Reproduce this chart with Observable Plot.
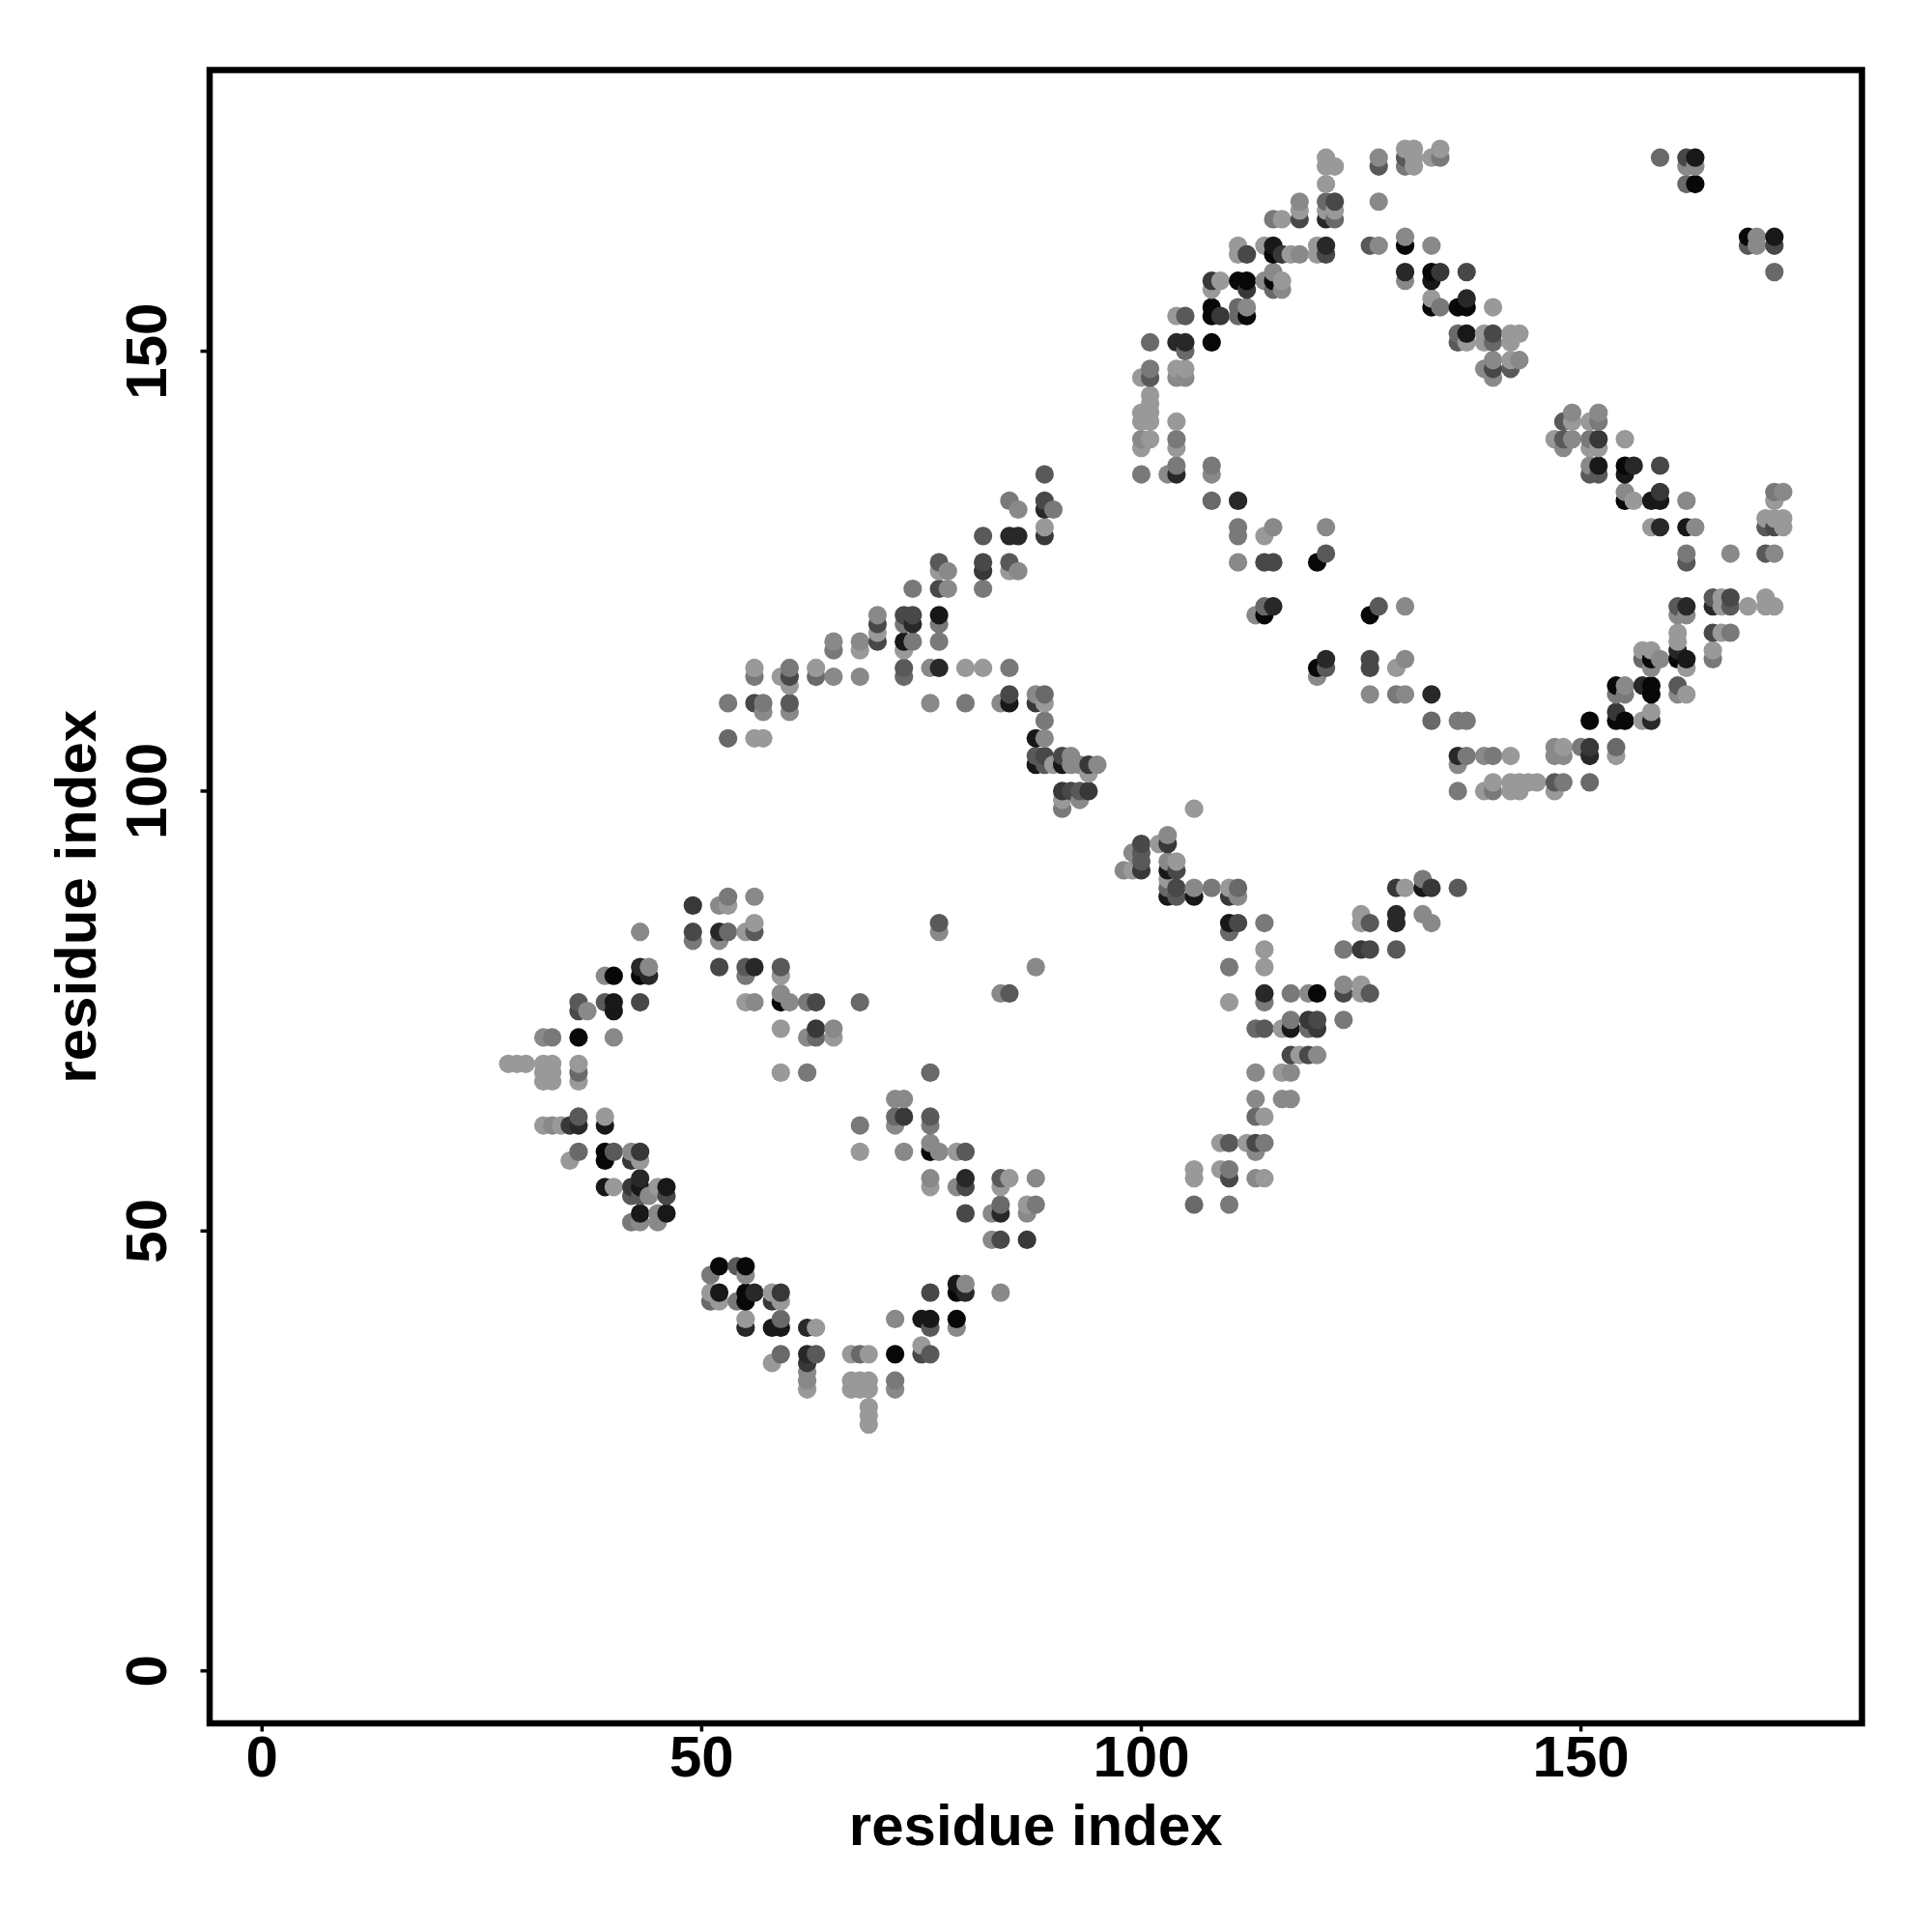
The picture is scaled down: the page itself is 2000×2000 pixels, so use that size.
<!DOCTYPE html>
<html>
<head>
<meta charset="utf-8">
<style>html,body{margin:0;padding:0;background:#fff}svg{display:block}</style>
<script src="https://cdn.jsdelivr.net/npm/d3@7"></script>
<script src="https://cdn.jsdelivr.net/npm/@observablehq/plot@0.6"></script>
</head>
<body>
<div id="chart"></div>
<script>
const axisTicks = [0, 50, 100, 150];
const axisTitle = "residue index";
// [residue i, residue j, shade 0 (darkest) .. 9 (lightest)]
const lowerLeftLoop = [
[53,88,7],[56,88,8],[49,87,3],[52,87,8],[53,87,9],[56,85,9],[77,85,5],[43,84,8],[49,84,4],[52,84,2],[53,84,6],[55,84,9],[56,84,5],[77,84,8],
[49,83,7],[52,83,8],[43,80,2],[44,80,8],[52,80,4],[55,80,5],[56,80,2],[59,80,5],[88,80,8],[39,79,8],[40,79,0],[43,79,0],[44,79,2],[55,79,7],[59,79,9],
[59,77,8],[84,77,8],[85,77,5],[36,76,5],[39,76,5],[40,76,1],[43,76,4],[55,76,9],[56,76,8],[59,76,0],[60,76,8],[62,76,7],[63,76,4],[68,76,6],
[36,75,4],[37,75,8],[40,75,1],[59,73,9],[63,73,3],[65,73,8],[32,72,8],[33,72,7],[36,72,0],[40,72,8],[62,72,8],[63,72,6],[65,72,9],
[28,69,9],[29,69,9],[30,69,9],[32,69,9],[33,69,9],[36,69,9],[32,68,9],[33,68,9],[36,68,6],[59,68,9],[62,68,7],[76,68,6],[32,67,9],[33,67,9],[36,67,9],
[72,65,8],[73,65,8],[36,63,5],[39,63,9],[72,63,6],[73,63,3],[76,63,5],[32,62,9],[33,62,8],[34,62,9],[35,62,3],[36,62,2],[39,62,1],[68,62,7],[72,62,8],[76,62,7],
[76,60,8],[36,59,6],[39,59,0],[40,59,5],[42,59,8],[43,59,3],[68,59,9],[73,59,8],[76,59,0],[77,59,8],[79,59,9],[80,59,5],[35,58,9],[39,58,0],[42,58,3],[43,58,9]
];
const lowerLeftBase = [
[43,56,2],[76,56,8],[80,56,2],[84,56,5],[85,56,9],[88,56,8],[39,55,1],[40,55,9],[42,55,3],[43,55,1],[45,55,9],[46,55,1],[76,55,9],[79,55,8],[80,55,4],[84,55,9],
[42,54,5],[43,54,5],[44,54,8],[46,54,4],[84,53,6],[87,53,9],[88,53,7],[43,52,1],[45,52,8],[46,52,1],[80,52,4],[83,52,8],[84,52,2],[87,52,8],[42,51,7],[43,51,8],[45,51,8],
[83,49,8],[84,49,4],[87,49,3],[52,46,0],[54,46,5],[55,46,0],[51,45,7],[55,45,8],[79,44,1],[80,44,8],
[51,43,9],[52,43,1],[55,43,0],[56,43,2],[58,43,9],[59,43,3],[76,43,4],[79,43,0],[80,43,2],[84,43,8],[51,42,6],[52,42,9],[54,42,7],[55,42,0],[58,42,3],[59,42,9],
[55,40,9],[59,40,6],[72,40,8],[75,40,1],[76,40,1],[79,40,0],[55,39,2],[58,39,1],[59,39,1],[62,39,2],[63,39,9],[76,39,5],[79,39,8],[75,37,9],
[59,36,6],[62,36,2],[63,36,5],[67,36,9],[68,36,6],[69,36,9],[72,36,0],[75,36,4],[76,36,5],[58,35,9],[62,35,3],[62,34,8],
[62,33,8],[67,33,9],[68,33,9],[69,33,9],[72,33,7],[62,32,9],[67,32,9],[68,32,9],[69,32,9],[72,32,8],[69,30,9],[69,29,9],[69,28,9]
];
const middleBranch = [
[106,98,9],[103,95,8],[100,94,4],[102,94,9],[103,94,3],[99,93,8],[100,93,5],[100,92,5],[103,92,8],[104,92,9],[98,91,8],[99,91,9],[100,91,3],[103,91,1],[104,91,4],[103,90,9],[132,90,7],
[103,89,6],[104,89,4],[106,89,8],[108,89,7],[110,89,9],[111,89,6],[129,89,3],[130,89,9],[132,89,1],[133,89,3],[136,89,5],[103,88,1],[104,88,5],[106,88,1],[110,88,3],[111,88,8],
[125,86,9],[129,86,2],[132,86,8],[110,85,1],[111,85,4],[114,85,7],[125,85,9],[126,85,5],[129,85,2],[133,85,8],[110,84,6],[114,82,9],[123,82,7],[125,82,3],[126,82,4],[129,82,5],
[110,80,7],[114,80,9],[123,78,8],[125,78,9],[114,77,2],[117,77,7],[119,77,8],[120,77,0],[123,77,4],[125,77,9],[126,77,5],[110,76,9],[114,76,7],
[117,74,7],[119,74,3],[120,74,4],[123,74,7],[113,73,6],[114,73,5],[116,73,9],[117,73,1],[119,73,6],[120,73,3],[117,70,4],[118,70,9],[119,70,4],[120,70,8],
[113,68,8],[116,68,9],[117,68,8],[113,65,8],[116,65,8],[117,65,8],[113,63,6],[114,63,9],[109,60,9],[110,60,5],[112,60,9],[113,60,4],[114,60,7],[113,59,8],
[106,57,9],[109,57,9],[110,57,7],[106,56,9],[110,56,4],[113,56,8],[114,56,9],[106,53,6],[110,53,7]
];
const middleArm = [
[89,136,5],[85,133,7],[89,133,4],[86,132,8],[89,132,2],[90,132,7],[89,130,9],[82,129,5],[85,129,2],[86,129,2],[89,129,3],[77,126,5],[82,126,4],[85,126,5],[77,125,9],[78,125,8],[82,125,3],[85,125,9],[86,125,8],
[74,123,7],[77,123,4],[78,123,8],[82,123,7],[70,120,8],[73,120,4],[74,120,4],[77,120,1],[70,119,4],[73,119,7],[74,119,2],[77,119,7],[70,118,9],[65,117,8],[68,117,8],[70,117,4],[73,117,1],[74,117,7],[77,117,7],[65,116,7],[68,116,9],[73,116,9],
[56,114,9],[60,114,7],[63,114,9],[73,114,5],[76,114,8],[77,114,2],[80,114,9],[82,114,9],[85,114,7],[56,113,7],[59,113,9],[60,113,4],[63,113,6],[65,113,8],[68,113,8],[73,113,6],[60,112,9],
[85,111,4],[88,111,8],[89,111,6],[53,110,7],[56,110,4],[57,110,7],[60,110,5],[76,110,8],[80,110,7],[84,110,8],[85,110,1],[88,110,3],[89,110,9],[57,109,8],[60,109,8],[89,108,7],
[53,106,6],[56,106,9],[57,106,9],[88,106,1],[89,106,8],[88,104,5],[89,104,4],[91,104,4],[92,104,8],[88,103,1],[89,103,5],[90,103,9],[91,103,1],[92,103,8],[93,103,8],[94,103,3],[95,103,8],[94,102,9],
[91,100,3],[92,100,4],[93,100,5],[94,100,3],[91,99,9],[93,99,8],[91,98,7]
];
const upperArc = [
[130,173,9],[131,173,9],[134,173,9],[121,172,9],[127,172,8],[130,172,5],[131,172,9],[133,172,9],[134,172,7],[159,172,6],[162,172,4],[163,172,1],[121,171,9],[122,171,9],[127,171,5],[130,171,7],[131,171,9],[162,171,8],[163,171,8],
[121,169,9],[162,169,6],[163,169,0],[118,167,8],[121,167,6],[122,167,4],[127,167,8],[118,166,9],[121,166,9],[122,166,9],[115,165,7],[116,165,9],[118,165,4],[121,165,2],[122,165,6],
[130,163,8],[169,163,0],[170,163,8],[172,163,1],[111,162,9],[114,162,9],[115,162,1],[120,162,9],[121,162,2],[126,162,5],[127,162,8],[130,162,0],[133,162,8],[169,162,5],[170,162,8],[172,162,4],
[111,161,9],[112,161,4],[115,161,0],[116,161,3],[117,161,9],[118,161,8],[120,161,9],[121,161,4],[115,159,8],[130,159,2],[133,159,0],[134,159,3],[137,159,4],[172,159,6],
[108,158,3],[109,158,9],[111,158,0],[112,158,0],[114,158,8],[115,158,0],[116,158,9],[130,158,8],[133,158,1],[108,157,9],[112,157,3],[115,157,6],[116,157,8],[133,156,9],[137,156,2],
[108,155,0],[111,155,6],[112,155,8],[133,155,0],[134,155,7],[136,155,0],[137,155,0],[140,155,9],[104,154,9],[105,154,5],[108,154,0],[109,154,3],[111,154,6],[112,154,0],
[136,152,6],[137,152,1],[139,152,9],[140,152,4],[142,152,9],[143,152,9],[101,151,6],[104,151,2],[105,151,2],[108,151,0],[136,151,5],[137,151,9],[139,151,9],[140,151,6],[142,151,9],[105,150,6],
[101,148,7],[104,148,9],[105,148,9],[140,149,8],[142,149,9],[143,149,8],[139,148,8],[140,148,4],[142,148,5],[100,147,9],[101,147,5],[104,147,8],[105,147,8],[140,147,8],
[101,145,9],[101,144,9],[100,143,9],[101,143,9],[100,142,9],[101,142,9],[104,142,9],[100,140,8],[101,140,9],[104,140,7],[100,139,9],[104,139,9],[104,137,7],[108,137,7],[100,136,7],[103,136,8],[104,136,2],[108,136,8],[108,133,6],[111,133,2]
];
const upperRight = [
[149,143,8],[152,143,8],[148,142,5],[149,142,9],[151,142,9],[152,142,7],[147,140,9],[148,140,5],[149,140,8],[151,140,7],[152,140,3],[155,140,9],[148,139,8],[151,139,9],[152,139,9],
[151,137,8],[152,137,1],[155,137,0],[156,137,2],[159,137,4],[151,136,5],[152,136,5],[155,136,1],[155,134,8],[159,134,3],[172,134,7],[173,134,8],[155,133,0],[156,133,9],[158,133,1],[159,133,1],[162,133,8],[172,133,9],
[171,131,9],[172,131,9],[173,131,9],[158,130,9],[159,130,2],[162,130,1],[163,130,8],[171,130,5],[172,130,4],[173,130,9],[162,127,7],[167,127,8],[171,127,5],[172,127,8],[162,126,5],
[165,122,5],[166,122,9],[167,122,4],[171,122,9],[161,121,5],[162,121,2],[165,121,2],[166,121,9],[167,121,5],[169,121,9],[171,121,9],[172,121,9],[161,120,8],[162,120,8],
[161,118,9],[165,118,4],[166,118,9],[167,118,7],[161,117,9],[157,116,9],[158,116,9],[161,116,2],[165,116,9],[157,115,6],[158,115,0],[159,115,8],[161,115,0],[162,115,1],[165,115,7],[158,114,8],[162,114,9],
[154,112,0],[155,112,8],[157,112,2],[158,112,0],[161,112,5],[154,111,7],[155,111,7],[158,111,0],[161,111,8],[162,111,9],[154,109,3],[158,109,9],[151,108,0],[154,108,0],[155,108,0],[157,108,9],[158,108,2],
[147,105,8],[148,105,9],[150,105,7],[151,105,3],[154,105,6],[147,104,8],[148,104,8],[151,104,2],[154,104,9],[140,101,9],[142,101,9],[143,101,9],[144,101,9],[145,101,9],[147,101,5],[148,101,7],[151,101,6],[142,100,9],[143,100,9],[147,100,9]
];
const innerDiagonal = [
[111,130,7],[115,130,8],[121,130,8],[111,129,7],[114,129,9],[121,127,5],[111,126,8],[114,126,4],[115,126,4],[120,126,0],[114,121,6],[115,121,2],[127,121,5],[130,121,8],[113,120,8],[114,120,0],[126,120,0],
[121,115,2],[126,115,4],[130,115,8],[120,114,0],[121,114,5],[126,114,4],[129,114,9],[120,113,8],[126,111,8],[129,111,7],[130,111,8],[133,111,2],[133,108,6],[136,108,7],[137,108,7],
[136,104,2],[137,104,7],[139,104,8],[140,104,7],[142,104,9],[136,103,8],[136,100,7],[139,100,9],[140,100,7]
];

const contacts = d3.sort(
  [...lowerLeftLoop, ...lowerLeftBase, ...middleBranch, ...middleArm, ...upperArc, ...upperRight, ...innerDiagonal],
  (r) => r[0], (r) => r[1]
).map(([i, j, shade]) => ({i, j, shade}));

const labelFont = "'Liberation Sans', Arial, sans-serif";
const chart = Plot.plot({
  width: 2000,
  height: 2000,
  marginLeft: 216.5,
  marginRight: 73,
  marginTop: 72,
  marginBottom: 216.5,
  style: {background: "#fff", fontFamily: labelFont, fontWeight: "bold", overflow: "visible"},
  x: {domain: [-5.96, 181.96]},
  y: {domain: [-5.96, 181.96]},
  color: {type: "linear", domain: [0, 9], range: ["#080808", "#999999"]},
  marks: [
    Plot.dot(contacts, {x: "i", y: "j", r: 9.6, fill: "shade", stroke: "none"}),
    Plot.axisX({
      ticks: axisTicks, tickFormat: (d) => String(d), tickSize: 9, strokeWidth: 3.5, tickPadding: 3,
      fontSize: 60, fill: "#000", label: axisTitle, labelAnchor: "center", labelArrow: "none", labelOffset: 126
    }),
    Plot.axisY({
      ticks: axisTicks, tickFormat: (d) => String(d), tickSize: 9, strokeWidth: 3.5, tickPadding: 55,
      tickRotate: -90, textAnchor: "middle", lineAnchor: "middle",
      fontSize: 60, fill: "#000", label: axisTitle, labelAnchor: "center", labelArrow: "none", labelOffset: 161
    }),
    Plot.frame({stroke: "#000", strokeWidth: 6.5})
  ]
});
document.getElementById("chart").appendChild(chart);
</script>
</body>
</html>
